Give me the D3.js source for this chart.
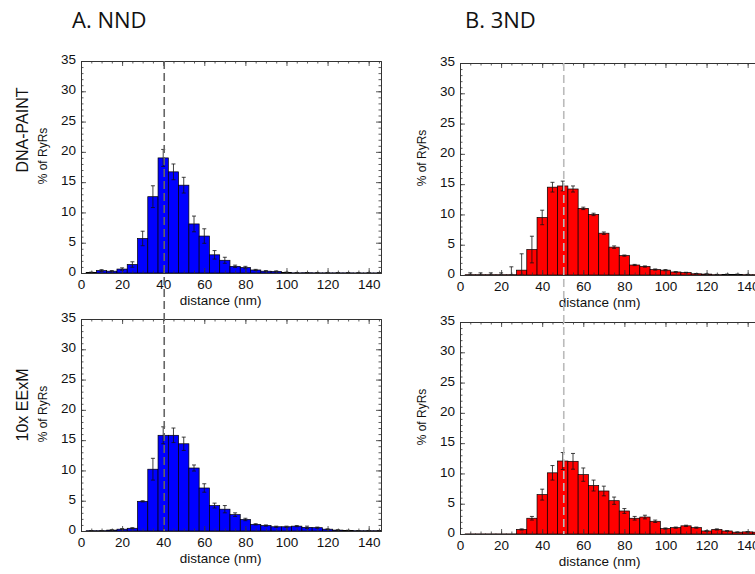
<!DOCTYPE html>
<html>
<head>
<meta charset="utf-8">
<script src="https://cdn.jsdelivr.net/npm/d3@7"></script>
<style>
  body { margin: 0; background: #fff; }
  text { font-family: "Liberation Sans", Arial, sans-serif; }
</style>
</head>
<body>
<script>
// bin centres (nm), 5 nm wide
const bins = [5,10,15,20,25,30,35,40,45,50,55,60,65,70,75,80,85,90,95,100,105,110,115,120,125,130,135,140,145];

// A. NND, DNA-PAINT
const nndPaint    = [0.1,0.4,0.3,0.65,1.4,5.7,12.6,19.0,16.7,14.5,8.1,6.1,3.0,2.1,1.1,0.9,0.5,0.3,0.25,0.1,0.03,0.05,0.03,0.03,0.03,0.03,0.02,0.02,0.02];
const nndPaintErr = [0.05,0.15,0.1,0.2,0.45,1.2,1.8,1.4,1.3,1.3,1.3,1.2,0.7,0.5,0.2,0.2,0.1,0.1,0.1,0.05,0.03,0.03,0.03,0.02,0.02,0.02,0.02,0.02,0.02];
// A. NND, 10x EExM
const nndExm      = [0.05,0.05,0.15,0.3,0.45,4.9,10.2,15.8,15.8,14.4,10.4,7.1,4.2,3.6,2.7,1.9,1.1,0.9,0.7,0.7,0.8,0.6,0.55,0.3,0.15,0.1,0.05,0.05,0.05];
const nndExmErr   = [0.02,0.02,0.05,0.1,0.1,0.1,1.8,1.4,1.2,1.1,0.5,0.7,0.4,0.6,0.3,0.2,0.1,0.1,0.1,0.1,0.1,0.2,0.1,0.05,0.05,0.03,0.02,0.02,0.02];
// B. 3ND, DNA-PAINT
const tndPaint    = [0.05,0.05,0.05,0.05,0.05,0.8,4.2,9.5,14.5,14.7,14.2,11.0,10.0,6.9,4.6,3.2,1.65,1.4,0.9,0.8,0.5,0.4,0.2,0.15,0.05,0.1,0.1,0.05,0.05];
const tndPaintErr = [0.3,0.3,0.3,0.3,1.3,2.7,2.2,1.2,0.8,0.8,0.5,0.2,0.2,0.2,0.2,0.1,0.1,0.1,0.1,0.1,0.05,0.05,0.05,0.05,0.05,0.05,0.05,0.05,0.05];
// B. 3ND, 10x EExM
const tndExm      = [0.02,0.02,0.02,0.02,0.02,0.75,2.6,6.5,10.1,12.05,12.0,9.8,8.0,7.1,5.5,3.8,2.6,2.8,2.1,0.9,1.05,1.35,1.05,0.5,0.75,0.5,0.3,0.35,0.3];
const tndExmErr   = [0,0,0,0,0,0.1,0.3,0.9,1.2,1.4,1.3,1.1,0.9,0.8,0.6,0.4,0.3,0.3,0.2,0.1,0.1,0.1,0.1,0.05,0.1,0.05,0.05,0.05,0.05];

const xTicks = [0,20,40,60,80,100,120,140];
const yTicks = [0,5,10,15,20,25,30,35];
const xMinor = d3.range(0, 150, 5);
const yMinor = d3.range(0, 36, 1);
const peakLines = [40.5, 50.5];   // dashed reference (nm), A and B

const W = 755, H = 574;
const pw = 300, ph = 212;
const xDomain = [0, 146];

const svg = d3.select("body").append("svg")
  .attr("width", W)
  .attr("height", H);

const panels = [
  {x: 81,  y: 61,  vals: nndPaint, errs: nndPaintErr, color: "#0000ff"},
  {x: 81,  y: 319, vals: nndExm,   errs: nndExmErr,   color: "#0000ff"},
  {x: 460, y: 63,  vals: tndPaint, errs: tndPaintErr, color: "#ff0000"},
  {x: 460, y: 322, vals: tndExm,   errs: tndExmErr,   color: "#ff0000"}
];

panels.forEach((p, k) => {
  const x = d3.scaleLinear().domain(xDomain).range([0, pw]);
  const y = d3.scaleLinear().domain([0, 35]).range([ph, 0]);
  const g = svg.append("g").attr("transform", "translate(" + p.x + "," + p.y + ")");
  const cid = "clip" + k;
  g.append("clipPath").attr("id", cid)
    .append("rect").attr("width", pw).attr("height", ph);

  const data = bins.map((b, i) => ({b: b, v: p.vals[i], e: p.errs[i]}));
  const plot = g.append("g").attr("clip-path", "url(#" + cid + ")");

  plot.selectAll("rect.bar")
    .data(data)
    .enter()
    .append("rect")
    .attr("class", "bar")
    .attr("x", d => x(d.b - 2.5))
    .attr("width", d => x(d.b + 2.5) - x(d.b - 2.5))
    .attr("y", d => y(d.v))
    .attr("height", d => y(0) - y(d.v))
    .attr("fill", p.color)
    .attr("stroke", "#000")
    .attr("stroke-width", 0.7);

  // error bars
  const eb = plot.selectAll("g.err")
    .data(data.filter(d => d.e > 0))
    .enter()
    .append("g")
    .attr("class", "err")
    .attr("stroke", "#111")
    .attr("stroke-width", 0.8);
  eb.append("line")
    .attr("x1", d => x(d.b)).attr("x2", d => x(d.b))
    .attr("y1", d => y(Math.max(0, d.v - d.e))).attr("y2", d => y(d.v + d.e));
  eb.append("line")
    .attr("x1", d => x(d.b) - 2).attr("x2", d => x(d.b) + 2)
    .attr("y1", d => y(d.v + d.e)).attr("y2", d => y(d.v + d.e));
  eb.append("line")
    .attr("x1", d => x(d.b) - 2).attr("x2", d => x(d.b) + 2)
    .attr("y1", d => y(Math.max(0, d.v - d.e))).attr("y2", d => y(Math.max(0, d.v - d.e)));

  // axes: IDL style, inward ticks on all sides
  const fs = "13.5px";
  const bx = g.append("g").attr("transform", "translate(0," + ph + ")")
    .call(d3.axisBottom(x).tickValues(xTicks).tickSize(-5).tickSizeOuter(0).tickPadding(6));
  bx.selectAll("text").style("font-size", fs).attr("fill", "#111");
  g.append("g").attr("transform", "translate(0," + ph + ")")
    .call(d3.axisBottom(x).tickValues(xMinor).tickSize(-2.5).tickSizeOuter(0).tickFormat(""));
  g.append("g")
    .call(d3.axisTop(x).tickValues(xTicks).tickSize(-5).tickSizeOuter(0).tickFormat(""));
  g.append("g")
    .call(d3.axisTop(x).tickValues(xMinor).tickSize(-2.5).tickSizeOuter(0).tickFormat(""));

  const ly = g.append("g")
    .call(d3.axisLeft(y).tickValues(yTicks).tickSize(-5).tickSizeOuter(0).tickPadding(5));
  ly.selectAll("text").style("font-size", fs).attr("fill", "#111").attr("dy", "0.2em");
  g.append("g")
    .call(d3.axisLeft(y).tickValues(yMinor).tickSize(-2.5).tickSizeOuter(0).tickFormat(""));
  g.append("g").attr("transform", "translate(" + pw + ",0)")
    .call(d3.axisRight(y).tickValues(yTicks).tickSize(-5).tickSizeOuter(0).tickFormat(""));
  g.append("g").attr("transform", "translate(" + pw + ",0)")
    .call(d3.axisRight(y).tickValues(yMinor).tickSize(-2.5).tickSizeOuter(0).tickFormat(""));

  g.selectAll(".domain").attr("stroke", "#333");
  g.selectAll(".tick line").attr("stroke", "#333").attr("stroke-width", 0.8);

  g.append("text")
    .attr("x", x(68))
    .attr("y", ph + 32)
    .attr("text-anchor", "middle")
    .style("font-size", "13.5px")
    .attr("fill", "#111")
    .text("distance (nm)");

  g.append("text")
    .attr("transform", "translate(-34," + 95 + ") rotate(-90)")
    .attr("text-anchor", "middle")
    .style("font-size", "12px")
    .attr("fill", "#111")
    .text("% of RyRs");

  p.x_ = x;
});

// dashed reference lines spanning both rows
[0, 2].forEach((k, j) => {
  const p = panels[k], q = panels[k + 1];
  svg.append("line")
    .attr("x1", p.x + p.x_(peakLines[j])).attr("x2", p.x + p.x_(peakLines[j]))
    .attr("y1", p.y).attr("y2", q.y + ph)
    .attr("stroke", j === 0 ? "#666" : "#bbb")
    .attr("stroke-width", 1.6)
    .attr("stroke-dasharray", "8,4");
});

// column titles
svg.append("text").attr("x", 72).attr("y", 28)
  .style("font-family", "'Open Sans', sans-serif").style("font-size", "22px").attr("fill", "#111")
  .text("A. NND");
svg.append("text").attr("x", 465).attr("y", 28)
  .style("font-family", "'Open Sans', sans-serif").style("font-size", "22px").attr("fill", "#111")
  .text("B. 3ND");

// row labels
svg.append("text")
  .attr("transform", "translate(28,130) rotate(-90)")
  .attr("text-anchor", "middle")
  .style("font-size", "16px").attr("fill", "#111")
  .text("DNA-PAINT");
svg.append("text")
  .attr("transform", "translate(28,405) rotate(-90)")
  .attr("text-anchor", "middle")
  .style("font-size", "16px").attr("fill", "#111")
  .text("10x EExM");
</script>
</body>
</html>
